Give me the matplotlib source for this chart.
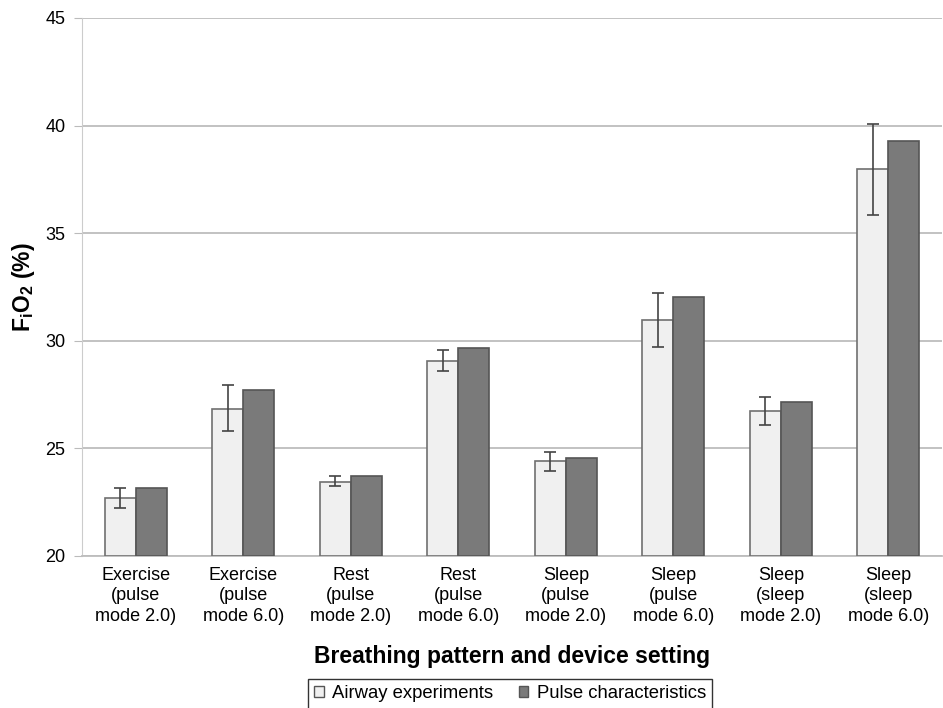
import numpy as np
import matplotlib.pyplot as plt
from matplotlib.patches import Patch

plt.rcParams['font.family'] = ['Liberation Sans', 'DejaVu Sans']
plt.rcParams['mathtext.fontset'] = 'custom'
plt.rcParams['mathtext.rm'] = 'Liberation Sans'
plt.rcParams['mathtext.bf'] = 'Liberation Sans:bold'

# data
categories = ["Exercise\n(pulse\nmode 2.0)", "Exercise\n(pulse\nmode 6.0)",
              "Rest\n(pulse\nmode 2.0)", "Rest\n(pulse\nmode 6.0)",
              "Sleep\n(pulse\nmode 2.0)", "Sleep\n(pulse\nmode 6.0)",
              "Sleep\n(sleep\nmode 2.0)", "Sleep\n(sleep\nmode 6.0)"]
airway = [22.7, 26.85, 23.45, 29.05, 24.4, 30.95, 26.75, 38.0]
airway_lo = [22.25, 25.8, 23.25, 28.6, 23.95, 29.7, 26.1, 35.85]
airway_hi = [23.15, 27.95, 23.7, 29.55, 24.85, 32.2, 27.4, 40.05]
pulse = [23.15, 27.7, 23.7, 29.65, 24.55, 32.05, 27.15, 39.3]

x = np.arange(len(categories))
w = 0.29
err = [np.array(airway) - np.array(airway_lo), np.array(airway_hi) - np.array(airway)]

fig = plt.figure(figsize=(9.43, 7.08), dpi=100)
ax = fig.add_axes([0.087, 0.2147, 0.912, 0.76])

ax.bar(x - w / 2, np.array(airway) - 20, w, bottom=20, color="#f0f0f0",
       edgecolor="#707070", linewidth=1.2, zorder=3)
ax.bar(x + w / 2, np.array(pulse) - 20, w, bottom=20, color="#7a7a7a",
       edgecolor="#555555", linewidth=1.2, zorder=3)
ax.errorbar(x - w / 2, airway, yerr=err, fmt="none", ecolor="#444444",
            elinewidth=1.2, capsize=4, capthick=1.2, zorder=4)

ax.set_ylim(20, 45)
ax.set_xlim(-0.5, len(categories) - 0.5)
ax.set_yticks([20, 25, 30, 35, 40, 45])
ax.set_xticks(x)
ax.set_xticklabels(categories, fontsize=13, linespacing=1.25)
ax.tick_params(axis="y", labelsize=13, length=6, color="#bbbbbb", pad=6)
ax.tick_params(axis="x", length=0, pad=8)
ax.yaxis.grid(True, color="#bdbdbd", linewidth=1.3, zorder=0)
ax.set_axisbelow(True)
for s in ["top", "right"]:
    ax.spines[s].set_visible(False)
ax.spines["left"].set_color("#cccccc")
ax.spines["bottom"].set_color("#bdbdbd")
ax.spines["bottom"].set_linewidth(1.3)

ax.set_xlabel("Breathing pattern and device setting", fontsize=16.5,
              fontweight="bold", labelpad=15)
ax.set_ylabel(r"$\mathbf{F_{i}O_{2}}$ (%)", fontsize=16.5, fontweight="bold",
              labelpad=6)

handles = [Patch(facecolor="#f0f0f0", edgecolor="#555555", label="Airway experiments"),
           Patch(facecolor="#7a7a7a", edgecolor="#555555", label="Pulse characteristics")]
leg = fig.legend(handles=handles, loc="lower center", bbox_to_anchor=(0.541, -0.014),
                 ncol=2, fontsize=13.3, frameon=True, fancybox=False,
                 handlelength=0.5, handleheight=0.5, handletextpad=0.45,
                 columnspacing=1.4, borderpad=0.35)
leg.get_frame().set_edgecolor("black")
leg.get_frame().set_linewidth(1.0)

fig.savefig("out.png", dpi=100)
